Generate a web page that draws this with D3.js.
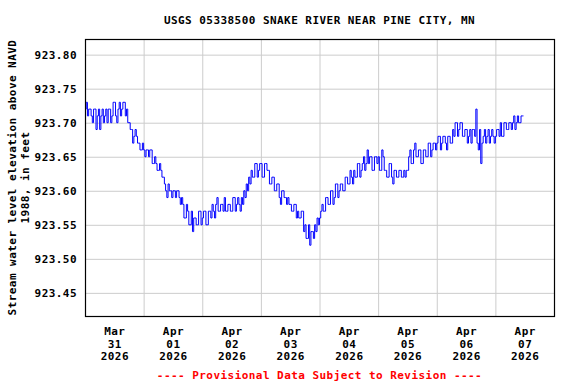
<!-- Load d3.js -->
<script src="https://d3js.org/d3.v7.min.js"></script>

<style>
  body { margin: 0; background: #fff; }
  text { font-family: "DejaVu Sans Mono", monospace; font-weight: bold; }
</style>

<div id="chart"></div>

<script>

    // chart text
    var title = "USGS 05338500 SNAKE RIVER NEAR PINE CITY, MN";
    var yLabel = ["Stream water level elevation above NAVD", "1988, in feet"];
    var footer = "---- Provisional Data Subject to Revision ----";
    var yTicks = [923.45, 923.50, 923.55, 923.60, 923.65, 923.70, 923.75, 923.80];

    // half-hourly water level (ft), one array per day starting at 00:00
    var mar31 = [923.72, 923.73, 923.71, 923.72, 923.72, 923.71, 923.70, 923.72, 923.72, 923.69, 923.71, 923.72,
                 923.69, 923.71, 923.72, 923.70, 923.71, 923.72, 923.70, 923.72, 923.72, 923.70, 923.71, 923.73,
                 923.73, 923.71, 923.70, 923.72, 923.73, 923.71, 923.72, 923.73, 923.73, 923.71, 923.72, 923.70,
                 923.70, 923.69, 923.69, 923.67, 923.68, 923.69, 923.68, 923.67, 923.67, 923.66, 923.66, 923.67];
    var apr01 = [923.66, 923.65, 923.66, 923.66, 923.65, 923.66, 923.66, 923.64, 923.64, 923.65, 923.64, 923.63,
                 923.63, 923.64, 923.63, 923.62, 923.62, 923.61, 923.60, 923.59, 923.61, 923.60, 923.60, 923.59,
                 923.60, 923.60, 923.59, 923.60, 923.60, 923.59, 923.58, 923.59, 923.58, 923.56, 923.56, 923.58,
                 923.57, 923.55, 923.55, 923.57, 923.54, 923.56, 923.56, 923.55, 923.55, 923.57, 923.57, 923.55];
    var apr02 = [923.56, 923.57, 923.57, 923.55, 923.55, 923.57, 923.57, 923.56, 923.58, 923.57, 923.56, 923.58,
                 923.59, 923.57, 923.57, 923.58, 923.58, 923.57, 923.59, 923.57, 923.57, 923.58, 923.58, 923.57,
                 923.57, 923.59, 923.59, 923.57, 923.58, 923.59, 923.58, 923.57, 923.59, 923.58, 923.60, 923.59,
                 923.61, 923.60, 923.62, 923.61, 923.63, 923.62, 923.62, 923.64, 923.64, 923.62, 923.63, 923.64];
    var apr03 = [923.64, 923.62, 923.62, 923.64, 923.64, 923.63, 923.63, 923.61, 923.61, 923.62, 923.62, 923.60,
                 923.60, 923.61, 923.61, 923.59, 923.58, 923.60, 923.60, 923.59, 923.59, 923.58, 923.59, 923.58,
                 923.58, 923.57, 923.57, 923.58, 923.58, 923.56, 923.57, 923.56, 923.56, 923.57, 923.57, 923.54,
                 923.55, 923.53, 923.53, 923.55, 923.52, 923.54, 923.54, 923.53, 923.55, 923.54, 923.56, 923.55];
    var apr04 = [923.56, 923.57, 923.58, 923.57, 923.57, 923.59, 923.59, 923.58, 923.58, 923.60, 923.60, 923.58,
                 923.59, 923.61, 923.61, 923.59, 923.60, 923.61, 923.61, 923.60, 923.60, 923.62, 923.62, 923.61,
                 923.61, 923.63, 923.62, 923.61, 923.63, 923.62, 923.62, 923.64, 923.64, 923.62, 923.63, 923.64,
                 923.65, 923.63, 923.64, 923.66, 923.64, 923.65, 923.65, 923.63, 923.63, 923.65, 923.65, 923.64];
    var apr05 = [923.65, 923.63, 923.63, 923.66, 923.65, 923.63, 923.63, 923.62, 923.62, 923.64, 923.64, 923.62,
                 923.61, 923.63, 923.63, 923.62, 923.62, 923.63, 923.63, 923.62, 923.62, 923.63, 923.62, 923.63,
                 923.63, 923.65, 923.66, 923.64, 923.64, 923.66, 923.67, 923.65, 923.65, 923.66, 923.66, 923.64,
                 923.64, 923.66, 923.66, 923.65, 923.65, 923.67, 923.67, 923.65, 923.66, 923.67, 923.67, 923.66];
    var apr06 = [923.67, 923.68, 923.68, 923.66, 923.67, 923.68, 923.68, 923.67, 923.66, 923.68, 923.68, 923.67,
                 923.67, 923.69, 923.68, 923.70, 923.70, 923.68, 923.69, 923.70, 923.70, 923.68, 923.68, 923.69,
                 923.69, 923.67, 923.68, 923.69, 923.67, 923.69, 923.69, 923.68, 923.72, 923.67, 923.66, 923.69,
                 923.64, 923.67, 923.68, 923.69, 923.67, 923.68, 923.69, 923.67, 923.68, 923.69, 923.68, 923.67];
    var apr07 = [923.68, 923.69, 923.69, 923.68, 923.70, 923.68, 923.68, 923.70, 923.70, 923.69, 923.69, 923.70,
                 923.70, 923.69, 923.70, 923.71, 923.69, 923.70, 923.71, 923.70, 923.70, 923.71, 923.71, 923.71];

    var days = [mar31, apr01, apr02, apr03, apr04, apr05, apr06, apr07];
    var data = [];
    days.forEach(function(vals, d) {
        vals.forEach(function(v, i) {
            data.push({t: new Date(Date.UTC(2026, 2, 31 + d, 0, 30 * i)), v: v});
        });
    });

    // plot box
    var margin = {top: 39, right: 22, bottom: 68, left: 85},
        width = 576 - margin.left - margin.right,
        height = 384 - margin.top - margin.bottom;

    var svg = d3.select("#chart")
      .append("svg")
        .attr("width", 576)
        .attr("height", 384);

    var g = svg.append("g")
        .attr("transform", "translate(" + margin.left + "," + margin.top + ")");

    var x = d3.scaleUtc()
        .domain([new Date(Date.UTC(2026, 2, 31)), new Date(Date.UTC(2026, 3, 8))])
        .range([0, width]);

    var y = d3.scaleLinear()
        .domain([923.416, 923.823])
        .range([height, 0]);

    // vertical grid at midnight
    var midnights = d3.utcDay.range(new Date(Date.UTC(2026, 3, 1)), new Date(Date.UTC(2026, 3, 8)));
    g.append("g")
        .attr("transform", "translate(0," + height + ")")
        .call(d3.axisBottom(x).tickValues(midnights).tickSize(-height).tickFormat(""))
        .call(function(a) {
            a.select(".domain").remove();
            a.selectAll("line").attr("stroke", "#cccccc");
        });

    // horizontal grid + y labels
    g.append("g")
        .call(d3.axisLeft(y).tickValues(yTicks).tickSize(-width).tickPadding(8)
            .tickFormat(d3.format(".2f")))
        .call(function(a) {
            a.select(".domain").remove();
            a.selectAll("line").attr("stroke", "#cccccc");
            a.selectAll("text")
                .attr("fill", "#000")
                .style("font-size", "11px")
                .style("letter-spacing", "0.45px");
        });

    // x labels at noon, three lines
    var noons = d3.utcDay.range(new Date(Date.UTC(2026, 2, 31)), new Date(Date.UTC(2026, 3, 8)))
        .map(function(d) { return d3.utcHour.offset(d, 12); });
    var fmt = [d3.utcFormat("%b"), d3.utcFormat("%d"), d3.utcFormat("%Y")];
    var xAxis = g.append("g")
        .attr("transform", "translate(0," + height + ")")
        .call(d3.axisBottom(x).tickValues(noons).tickSize(0).tickFormat(""));
    xAxis.select(".domain").remove();
    xAxis.selectAll(".tick").each(function(d) {
        var t = d3.select(this).append("text")
            .attr("fill", "#000")
            .attr("text-anchor", "middle")
            .style("font-size", "11px")
            .style("letter-spacing", "0.45px");
        fmt.forEach(function(f, i) {
            t.append("tspan").attr("x", 0).attr("y", 19 + i * 12.5).text(f(d));
        });
    });

    // water level line
    var line = d3.line()
        .curve(d3.curveStepAfter)
        .x(function(d) { return x(d.t); })
        .y(function(d) { return y(d.v); });

    g.append("path")
        .datum(data)
        .attr("fill", "none")
        .attr("stroke", "#0000ff")
        .attr("stroke-width", 1)
        .attr("d", line);

    // plot frame
    g.append("rect")
        .attr("x", 0.5)
        .attr("y", 0.5)
        .attr("width", width)
        .attr("height", height)
        .attr("fill", "none")
        .attr("stroke", "#000")
        .attr("stroke-width", 1.2);

    // title
    svg.append("text")
        .attr("x", margin.left + width / 2)
        .attr("y", 24)
        .attr("text-anchor", "middle")
        .style("font-size", "11px")
        .style("letter-spacing", "0.45px")
        .text(title);

    // y axis title
    var yt = svg.append("text")
        .attr("transform", "translate(0," + (margin.top + height / 2) + ") rotate(-90)")
        .attr("text-anchor", "middle")
        .style("font-size", "11px")
        .style("letter-spacing", "0.45px");
    yLabel.forEach(function(s, i) {
        yt.append("tspan").attr("x", 0).attr("y", 16 + i * 13).text(s);
    });

    // footer
    svg.append("text")
        .attr("x", margin.left + width / 2)
        .attr("y", 379)
        .attr("text-anchor", "middle")
        .attr("fill", "#ff0000")
        .style("font-size", "11px")
        .style("letter-spacing", "0.45px")
        .text(footer);

</script>
